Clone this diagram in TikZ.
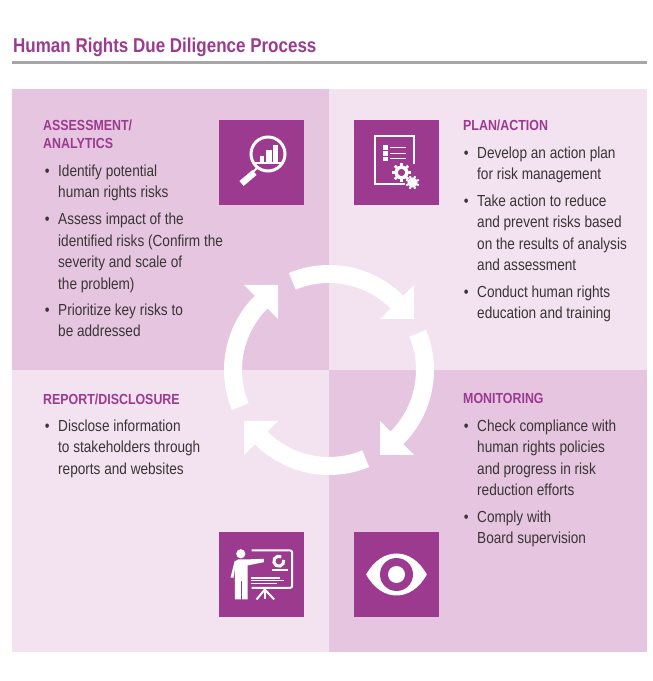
\documentclass[tikz,border=0pt]{standalone}
\usepackage{fontspec}
\setmainfont[FakeStretch=0.85]{Liberation Sans}
\usepackage{xcolor}
\definecolor{plum}{HTML}{9C3A90}
\definecolor{plumdark}{HTML}{E5C5E0}
\definecolor{plumlight}{HTML}{F3E2EF}
\definecolor{inktext}{HTML}{3A3535}
\newcommand{\bodyfont}{\fontsize{16}{21.5}\selectfont}
\newcommand{\headfont}{\fontsize{14.6}{18}\selectfont\bfseries}
\newcommand{\dotitem}{\strut\llap{\textbullet\hspace{8.5pt}}}
\tikzset{
	iconbox/.style={fill=plum, draw=none, inner sep=0pt, minimum size=85pt},
	heading/.style={anchor=north west, inner sep=0pt, align=left, text=plum, font=\headfont},
	bullettext/.style={anchor=north west, inner sep=0pt, align=left, text=inktext, font=\bodyfont},
}
\begin{document}
\begin{tikzpicture}[x=1pt, y=1pt]
	\useasboundingbox (0,0) rectangle (653,681);
	\fill [white] (0,0) rectangle (653,681);

	% title
	\node [anchor=base west, inner sep=0pt, text=plum, font=\fontsize{20}{24}\selectfont\bfseries] (title) at (13,628) {Human Rights Due Diligence Process};
	\fill [black!35] (12,617) rectangle (647,620);

	% panels
	\fill [plumdark] (12,592) rectangle (329,311);
	\fill [plumlight] (329,592) rectangle (647,311);
	\fill [plumlight] (12,311) rectangle (329,29);
	\fill [plumdark] (329,311) rectangle (647,29);

	% cycle
	\begin{scope}[shift={(329,311)}]
		\foreach \r in {0,90,180,270}
			\fill [white, rotate=\r] (112.5:105) arc [start angle=112.5, end angle=45, radius=105]
				-- (85,85) -- (85,51) -- (51,51) -- (45:87)
				arc [start angle=45, end angle=112.5, radius=87] -- cycle;
	\end{scope}

	% icon boxes
	\node [iconbox] (search) at (261.5,518.5) {};
	\node [iconbox] (plan) at (396.5,518.5) {};
	\node [iconbox] (report) at (261.5,106.5) {};
	\node [iconbox] (watch) at (396.5,106.5) {};

	% magnifier
	\begin{scope}[shift={(search.center)}]
		\draw [white, line width=3pt] (6.5,8.5) circle (17);
		\draw [white, line width=2pt] (-5,-6) -- (-8,-9);
		\draw [white, line width=6.5pt] (-7,-10) -- (-20,-21);
		\fill [white] (-1.5,0) rectangle (2.5,6);
		\fill [white] (4.5,0) rectangle (10,12.5);
		\fill [white] (11.5,0) rectangle (16.5,17.5);
		\fill [white] (-6.5,-1.5) rectangle (20,0);
	\end{scope}

	% document and gears
	\begin{scope}[shift={(plan.center)}]
		\draw [white, line width=2.5pt] (17.5,-1.5) -- (17.5,26.5) -- (-21.5,26.5) -- (-21.5,-21.5) -- (8.5,-21.5);
		\foreach \y in {14.8,9.2,3.6} {
			\fill [white] (-14,\y-2.3) rectangle (-8.5,\y+2.3);
			\draw [white, line width=1pt] (-6.5,\y) -- (9.5,\y);
		}
		\foreach \a in {0,45,...,315}
			\draw [white, line width=2.8pt] (5,-10) -- ++(\a:9.5);
		\fill [white] (5,-10) circle (7);
		\fill [plum] (5,-10) circle (3.6);
		\foreach \a in {22.5,67.5,...,337.5}
			\draw [white, line width=2pt] (16,-20) -- ++(\a:6.8);
		\fill [white] (16,-20) circle (5);
	\end{scope}

	% presenter
	\begin{scope}[shift={(report.center)}]
		\fill [white] (-20.7,20.7) circle (4.6);
		\fill [white] (-31,-3) -- (-27,13) -- (-23.5,15) -- (-17,15) -- (2.3,15.7) -- (2.3,12.3) -- (-14,9)
			-- (-14,-25) -- (-19.3,-25) -- (-19.3,-6.7) -- (-20.7,-6.7) -- (-20.7,-25) -- (-26.7,-25)
			-- (-26.7,6.7) -- (-28,-3.3) -- cycle;
		\draw [white, line width=2pt, rounded corners=2pt] (-10,24) -- (30.7,24) -- (30.7,-13.3) -- (-10,-13.3);
		\draw [white, line width=3pt] (17.3,13.3) ++(60:5) arc [start angle=60, end angle=375, radius=5];
		\draw [white, line width=1.5pt] (10,4.3) -- (26,4.3);
		\foreach \y/\w in {-3.3/29,-6/33,-9/25.7}
			\draw [white, line width=1.5pt] (-10.7,\y) -- ++(\w,0);
		\draw [white, line width=2pt] (3.3,-13.3) -- (3.3,-25);
		\draw [white, line width=2pt] (3.3,-15) -- (-5,-25);
		\draw [white, line width=2pt] (3.3,-15) -- (12.7,-25);
	\end{scope}

	% eye
	\begin{scope}[shift={(watch.center)}]
		\fill [white] (-30.3,0) .. controls (-15,28) and (15,28) .. (30.3,0) .. controls (15,-28) and (-15,-28) .. (-30.3,0) -- cycle;
		\fill [plum] (0,0) circle (16.5);
		\fill [white] (0,0) circle (8.5);
	\end{scope}

	% assessment text
	\node [heading] (assess) at (43,561) {ASSESSMENT/\\ANALYTICS};
	\node [bullettext] (assessa) at (58,520) {\dotitem Identify potential\\human rights risks};
	\node [bullettext] (assessb) at (58,471.5) {\dotitem Assess impact of the\\identified risks (Confirm the\\severity and scale of\\the problem)};
	\node [bullettext] (assessc) at (58,381) {\dotitem Prioritize key risks to\\be addressed};

	% plan text
	\node [heading] (action) at (463,561) {PLAN/ACTION};
	\node [bullettext] (actiona) at (477,538) {\dotitem Develop an action plan\\for risk management};
	\node [bullettext] (actionb) at (477,490) {\dotitem Take action to reduce\\and prevent risks based\\on the results of analysis\\and assessment};
	\node [bullettext] (actionc) at (477,399) {\dotitem Conduct human rights\\education and training};

	% report text
	\node [heading] (disclose) at (43,287.5) {REPORT/DISCLOSURE};
	\node [bullettext] (disclosea) at (58,265) {\dotitem Disclose information\\to stakeholders through\\reports and websites};

	% monitoring text
	\node [heading] (monitor) at (463,287.5) {MONITORING};
	\node [bullettext] (monitora) at (477,265) {\dotitem Check compliance with\\human rights policies\\and progress in risk\\reduction efforts};
	\node [bullettext] (monitorb) at (477,174) {\dotitem Comply with\\Board supervision};
\end{tikzpicture}
\end{document}
